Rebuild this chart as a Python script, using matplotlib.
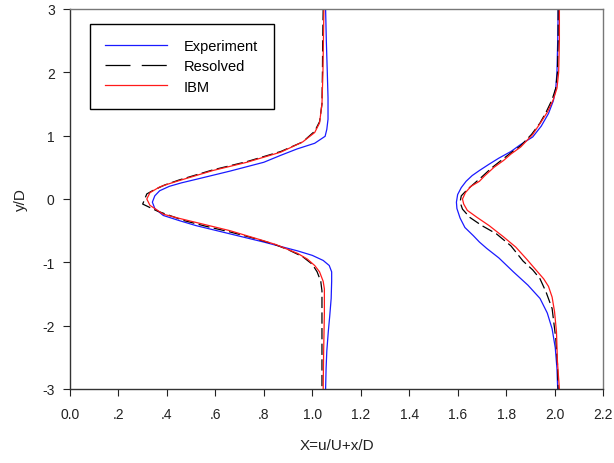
import matplotlib
matplotlib.use("Agg")
import matplotlib.pyplot as plt
from matplotlib.lines import Line2D

plt.rcParams['font.family'] = ['Liberation Sans', 'DejaVu Sans']

# ---- wake profiles at the first station (X, y/D) ----
exp1_x = [1.055, 1.058, 1.062, 1.065, 1.065, 1.06, 1.053, 1.01, 0.937, 0.87, 0.80, 0.73,
          0.66, 0.59, 0.52, 0.46, 0.41, 0.37, 0.35, 0.34, 0.35, 0.385, 0.45, 0.52, 0.59,
          0.66, 0.73, 0.80, 0.87, 0.94, 1.00, 1.045, 1.07, 1.08, 1.08, 1.078, 1.072,
          1.066, 1.06, 1.057, 1.055]
exp1_y = [3.0, 2.5, 2.0, 1.6, 1.26, 1.10, 0.99, 0.88, 0.79, 0.69, 0.58, 0.51,
          0.44, 0.375, 0.31, 0.255, 0.20, 0.13, 0.05, -0.05, -0.15, -0.26, -0.34, -0.42, -0.485,
          -0.55, -0.615, -0.68, -0.75, -0.82, -0.89, -0.97, -1.05, -1.15, -1.3, -1.57, -1.85,
          -2.1, -2.4, -2.68, -3.0]

res1_x = [1.045, 1.043, 1.042, 1.04, 1.03, 1.01, 0.96, 0.87, 0.80, 0.73, 0.66, 0.59,
          0.52, 0.45, 0.39, 0.34, 0.317, 0.30, 0.36, 0.47, 0.56, 0.66, 0.75, 0.84, 0.90,
          0.96, 1.00, 1.02, 1.035, 1.04, 1.04, 1.04]
res1_y = [3.0, 2.5, 2.0, 1.5, 1.22, 1.07, 0.9, 0.75, 0.67, 0.59, 0.525, 0.46,
          0.38, 0.30, 0.22, 0.13, 0.08, -0.08, -0.19, -0.34, -0.43, -0.52, -0.61, -0.71, -0.80,
          -0.91, -1.03, -1.15, -1.3, -1.45, -2.0, -3.0]

ibm1_x = [1.048, 1.046, 1.044, 1.04, 1.03, 1.01, 0.96, 0.87, 0.80, 0.73, 0.66, 0.59,
          0.52, 0.45, 0.40, 0.37, 0.33, 0.317, 0.33, 0.385, 0.45, 0.52, 0.59, 0.66, 0.73,
          0.80, 0.85, 0.895, 0.94, 0.98, 1.01, 1.03, 1.045, 1.05, 1.05, 1.047, 1.045]
ibm1_y = [3.0, 2.5, 2.0, 1.5, 1.2, 1.05, 0.9, 0.74, 0.66, 0.58, 0.515, 0.45,
          0.37, 0.29, 0.23, 0.19, 0.10, 0.0, -0.1, -0.24, -0.305, -0.37, -0.435, -0.50, -0.58,
          -0.66, -0.72, -0.79, -0.86, -0.95, -1.05, -1.15, -1.3, -1.42, -1.8, -2.4, -3.0]

# ---- wake profiles at the second station ----
exp2_x = [2.015, 2.013, 2.01, 2.005, 1.995, 1.975, 1.945, 1.91, 1.86, 1.82, 1.77, 1.73,
          1.69, 1.66, 1.635, 1.615, 1.60, 1.595, 1.597, 1.61, 1.63, 1.665, 1.69, 1.72,
          1.77, 1.83, 1.89, 1.94, 1.97, 1.99, 2.003, 2.01, 2.013]
exp2_y = [3.0, 2.5, 2.0, 1.75, 1.55, 1.35, 1.15, 0.98, 0.86, 0.75, 0.645, 0.55,
          0.45, 0.37, 0.28, 0.18, 0.07, -0.05, -0.15, -0.3, -0.45, -0.58, -0.68, -0.78,
          -0.93, -1.15, -1.36, -1.57, -1.8, -2.05, -2.35, -2.68, -3.0]

res2_x = [2.015, 2.015, 2.012, 2.005, 1.99, 1.965, 1.94, 1.905, 1.86, 1.82, 1.78, 1.74,
          1.70, 1.67, 1.64, 1.615, 1.61, 1.62, 1.65, 1.70, 1.76, 1.82, 1.87, 1.91,
          1.94, 1.965, 1.99, 2.005, 2.012, 2.015]
res2_y = [3.0, 2.5, 2.0, 1.75, 1.57, 1.37, 1.2, 1.02, 0.84, 0.73, 0.61, 0.49,
          0.35, 0.25, 0.15, 0.05, -0.05, -0.16, -0.29, -0.42, -0.55, -0.74, -0.98, -1.12,
          -1.26, -1.47, -1.73, -2.2, -2.6, -3.0]

ibm2_x = [2.02, 2.02, 2.017, 2.01, 1.995, 1.97, 1.945, 1.91, 1.86, 1.82, 1.79, 1.75,
          1.71, 1.69, 1.655, 1.632, 1.62, 1.625, 1.64, 1.68, 1.73, 1.79, 1.84, 1.885,
          1.93, 1.955, 1.975, 1.99, 2.0, 2.008, 2.012, 2.02]
ibm2_y = [3.0, 2.5, 2.0, 1.75, 1.57, 1.37, 1.22, 1.02, 0.82, 0.71, 0.61, 0.50,
          0.36, 0.28, 0.2, 0.1, 0.0, -0.08, -0.18, -0.29, -0.42, -0.60, -0.76, -0.95,
          -1.15, -1.26, -1.38, -1.55, -1.78, -2.1, -2.57, -3.0]

series_names = ['Experiment', 'Resolved', 'IBM']
xticks = [0.0, 0.2, 0.4, 0.6, 0.8, 1.0, 1.2, 1.4, 1.6, 1.8, 2.0, 2.2]
xtick_labels = ['0.0', '.2', '.4', '.6', '.8', '1.0', '1.2', '1.4', '1.6', '1.8', '2.0', '2.2']
yticks = [-3, -2, -1, 0, 1, 2, 3]
ytick_labels = ['-3', '-2', '-1', '0', '1', '2', '3']

BLUE = '#1a1aff'
RED = '#ff1a1a'
TXT = '#222222'

fig = plt.figure(figsize=(6.14, 4.64), dpi=100)
ax = fig.add_axes([70 / 614, 1 - 390 / 464, 533 / 614, 380 / 464])

lw = 0.9
dash = (0, (9, 3.5))
ax.plot(exp1_x, exp1_y, color=BLUE, lw=lw)
ax.plot(res1_x, res1_y, color='black', lw=lw, linestyle=dash)
ax.plot(ibm1_x, ibm1_y, color=RED, lw=lw)
ax.plot(exp2_x, exp2_y, color=BLUE, lw=lw)
ax.plot(res2_x, res2_y, color='black', lw=lw, linestyle=dash)
ax.plot(ibm2_x, ibm2_y, color=RED, lw=lw)

ax.set_xlim(0.0, 2.2)
ax.set_ylim(-3, 3)
ax.set_xticks(xticks)
ax.set_xticklabels(xtick_labels)
ax.set_yticks(yticks)
ax.set_yticklabels(ytick_labels)
ax.tick_params(direction='out', length=5, width=0.8, colors=TXT,
               labelsize=10, labelcolor=TXT)
ax.tick_params(axis='x', pad=8)
ax.tick_params(axis='y', pad=6)

for side in ('top', 'right'):
    ax.spines[side].set_color('#777777')
    ax.spines[side].set_linewidth(1.0)
for side in ('left', 'bottom'):
    ax.spines[side].set_color('#333333')
    ax.spines[side].set_linewidth(1.0)

ax.set_xlabel('X=u/U+x/D', fontsize=11, color=TXT, labelpad=12)
ax.set_ylabel('y/D', fontsize=11, color=TXT, labelpad=10)

# legend keys: the dashed key uses longer dashes than the plotted curves
handles = [Line2D([], [], color=BLUE, lw=lw),
           Line2D([], [], color='black', lw=lw, linestyle=(0, (20, 9))),
           Line2D([], [], color=RED, lw=lw)]
leg = ax.legend(handles, series_names, loc='upper left',
                bbox_to_anchor=(20 / 533, 1 - 15 / 380),
                borderaxespad=0, fancybox=False, frameon=True, framealpha=1,
                edgecolor='black', fontsize=10.5, handlelength=4.2,
                handletextpad=1.2, labelspacing=0.42, borderpad=1.05)
leg.get_frame().set_linewidth(1.0)

fig.savefig('out.png', dpi=100)
